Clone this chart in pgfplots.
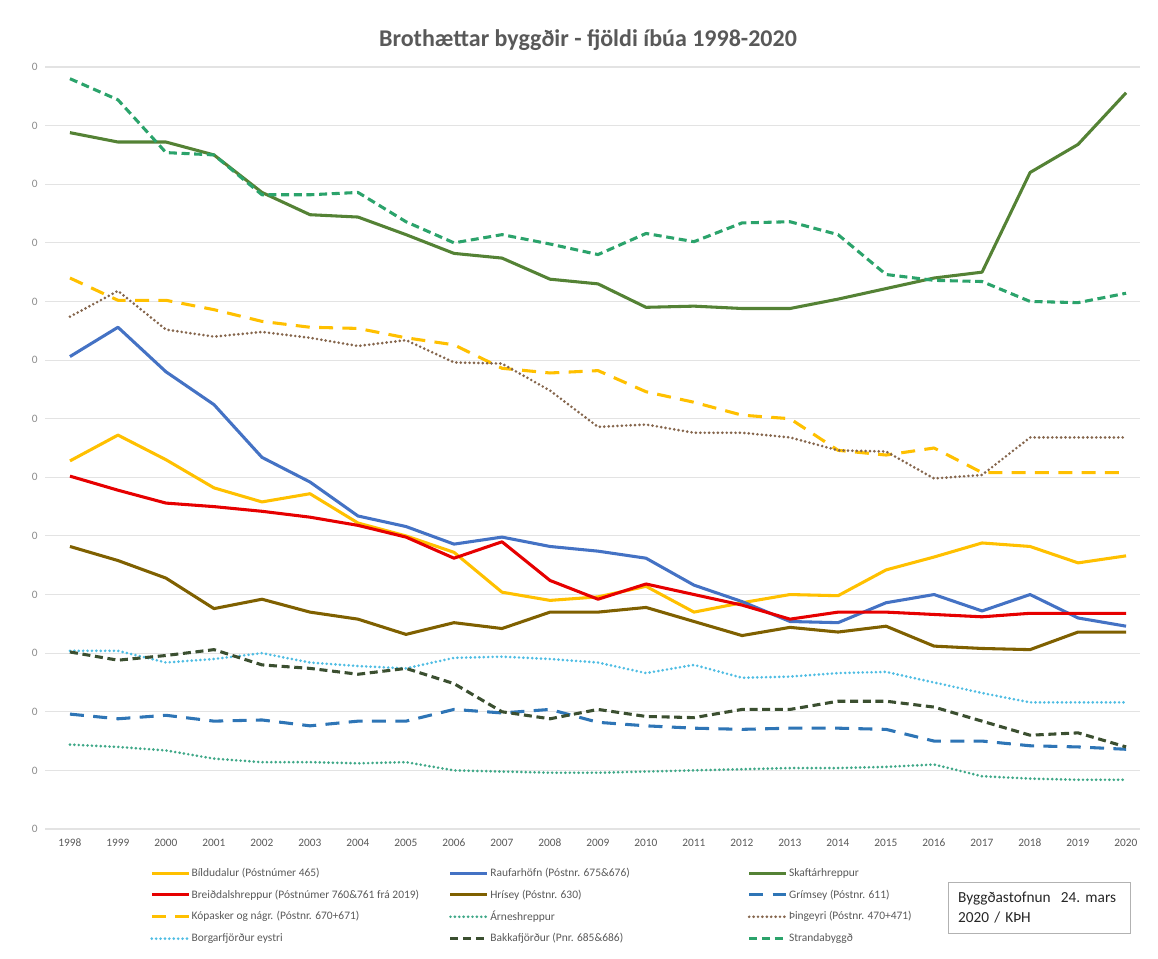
\documentclass[border=0pt]{standalone}
\usepackage{fontspec}
\setmainfont{Carlito}
\usepackage{pgfplots}
\pgfplotsset{compat=1.18}

\definecolor{cBild}{HTML}{FFC000}
\definecolor{cRauf}{HTML}{4472C4}
\definecolor{cSkaf}{HTML}{548235}
\definecolor{cBreid}{HTML}{E60000}
\definecolor{cHris}{HTML}{7F6000}
\definecolor{cGrim}{HTML}{2E75B6}
\definecolor{cKop}{HTML}{FFC000}
\definecolor{cArn}{HTML}{3FA888}
\definecolor{cThing}{HTML}{85664D}
\definecolor{cBorg}{HTML}{4FBDE3}
\definecolor{cBakk}{HTML}{3B4F30}
\definecolor{cStr}{HTML}{2BA36B}
\definecolor{gridgray}{HTML}{E3E3E3}
\definecolor{txtgray}{HTML}{595959}

\newcommand{\lw}[1]{\makebox[192pt][l]{#1}}

\begin{document}
\begin{tikzpicture}[x=0.75pt,y=0.75pt]
\path[use as bounding box] (0,0) rectangle (1158,958);
\begin{axis}[
  at={(33.75pt,96.75pt)}, anchor=south west,
  scale only axis,
  width=821.25pt, height=571.5pt,
  xmin=1997.48, xmax=2020.29,
  ymin=0, ymax=650,
  xtick={1998,1999,...,2020},
  ytick={0,50,...,650},
  yticklabel={0},
  ymajorgrids,
  grid style={color=gridgray, line width=0.8pt},
  axis line style={draw=none},
  tick style={draw=none},
  clip=false,
  xticklabel style={font=\fontsize{8.5}{10}\selectfont, text=txtgray,
    /pgf/number format/1000 sep={}, /pgf/number format/assume math mode=true, yshift=-4pt},
  yticklabel style={font=\fontsize{8.5}{10}\selectfont, text=black!45, xshift=-2pt},
  legend columns=3,
  legend cell align={left},
  legend style={draw=none, fill=none, at={(0.0922,-0.046)}, anchor=north west,
    font=\fontsize{8.6}{10}\selectfont, text=txtgray,
    nodes={inner sep=1pt}, column sep=0pt, row sep=6.2pt},
  legend image code/.code={\draw[#1] plot coordinates {(0pt,0pt) (27.75pt,0pt)};},
  every axis plot/.append style={line join=round},
  dots/.style={line width=2.2pt, line cap=round, dash pattern=on 0pt off 3.3pt},
]
\addplot[cBild, line width=2.3pt] coordinates {(1998,314) (1999,336) (2000,315) (2001,291) (2002,279) (2003,286) (2004,261) (2005,250) (2006,236) (2007,202) (2008,195) (2009,198) (2010,207) (2011,185) (2012,193) (2013,200) (2014,199) (2015,221) (2016,232) (2017,244) (2018,241) (2019,227) (2020,233)};
\addlegendentry{\lw{Bíldudalur (Póstnúmer 465)}}
\addplot[cRauf, line width=2.3pt] coordinates {(1998,403) (1999,428) (2000,390) (2001,362) (2002,317) (2003,296) (2004,267) (2005,258) (2006,243) (2007,249) (2008,241) (2009,237) (2010,231) (2011,208) (2012,194) (2013,177) (2014,176) (2015,193) (2016,200) (2017,186) (2018,200) (2019,180) (2020,173)};
\addlegendentry{\lw{Raufarhöfn (Póstnr. 675\&676)}}
\addplot[cSkaf, line width=2.3pt] coordinates {(1998,594) (1999,586) (2000,586) (2001,575) (2002,543) (2003,524) (2004,522) (2005,507) (2006,491) (2007,487) (2008,469) (2009,465) (2010,445) (2011,446) (2012,444) (2013,444) (2014,452) (2015,461) (2016,470) (2017,475) (2018,560) (2019,584) (2020,628)};
\addlegendentry{Skaftárhreppur}
\addplot[cBreid, line width=2.3pt] coordinates {(1998,301) (1999,289) (2000,278) (2001,275) (2002,271) (2003,266) (2004,259) (2005,249) (2006,231) (2007,245) (2008,212) (2009,196) (2010,209) (2011,200) (2012,191) (2013,179) (2014,185) (2015,185) (2016,183) (2017,181) (2018,184) (2019,184) (2020,184)};
\addlegendentry{\lw{Breiðdalshreppur (Póstnúmer 760\&761 frá 2019)}}
\addplot[cHris, line width=2.3pt] coordinates {(1998,241) (1999,229) (2000,214) (2001,188) (2002,196) (2003,185) (2004,179) (2005,166) (2006,176) (2007,171) (2008,185) (2009,185) (2010,189) (2011,177) (2012,165) (2013,172) (2014,168) (2015,173) (2016,156) (2017,154) (2018,153) (2019,168) (2020,168)};
\addlegendentry{\lw{Hrísey (Póstnr. 630)}}
\addplot[cGrim, line width=2.3pt, dash pattern=on 10.5pt off 7pt] coordinates {(1998,98) (1999,94) (2000,97) (2001,92) (2002,93) (2003,88) (2004,92) (2005,92) (2006,102) (2007,99) (2008,102) (2009,91) (2010,88) (2011,86) (2012,85) (2013,86) (2014,86) (2015,85) (2016,75) (2017,75) (2018,71) (2019,70) (2020,68)};
\addlegendentry{Grímsey (Póstnr. 611)}
\addplot[cKop, line width=2.3pt, dash pattern=on 10.5pt off 7pt] coordinates {(1998,470) (1999,451) (2000,451) (2001,443) (2002,433) (2003,428) (2004,427) (2005,419) (2006,413) (2007,393) (2008,389) (2009,391) (2010,373) (2011,364) (2012,353) (2013,350) (2014,323) (2015,319) (2016,325) (2017,304) (2018,304) (2019,304) (2020,304)};
\addlegendentry{\lw{Kópasker og nágr. (Póstnr. 670+671)}}
\addplot[cArn, dots] coordinates {(1998,72) (1999,70) (2000,67) (2001,60) (2002,57) (2003,57) (2004,56) (2005,57) (2006,50) (2007,49) (2008,48) (2009,48) (2010,49) (2011,50) (2012,51) (2013,52) (2014,52) (2015,53) (2016,55) (2017,45) (2018,43) (2019,42) (2020,42)};
\addlegendentry{\lw{Árneshreppur}}
\addplot[cThing, dots] coordinates {(1998,437) (1999,459) (2000,426) (2001,420) (2002,424) (2003,419) (2004,412) (2005,417) (2006,398) (2007,397) (2008,374) (2009,343) (2010,345) (2011,338) (2012,338) (2013,334) (2014,323) (2015,322) (2016,299) (2017,302) (2018,334) (2019,334) (2020,334)};
\addlegendentry{Þingeyri (Póstnr. 470+471)}
\addplot[cBorg, dots] coordinates {(1998,152) (1999,152) (2000,142) (2001,145) (2002,150) (2003,142) (2004,139) (2005,137) (2006,146) (2007,147) (2008,145) (2009,142) (2010,133) (2011,140) (2012,129) (2013,130) (2014,133) (2015,134) (2016,125) (2017,116) (2018,108) (2019,108) (2020,108)};
\addlegendentry{\lw{Borgarfjörður eystri}}
\addplot[cBakk, line width=2.3pt, dash pattern=on 6pt off 3.5pt] coordinates {(1998,151) (1999,144) (2000,148) (2001,153) (2002,140) (2003,137) (2004,132) (2005,137) (2006,124) (2007,100) (2008,94) (2009,102) (2010,96) (2011,95) (2012,102) (2013,102) (2014,109) (2015,109) (2016,104) (2017,92) (2018,80) (2019,82) (2020,70)};
\addlegendentry{\lw{Bakkafjörður (Pnr. 685\&686)}}
\addplot[cStr, line width=2.3pt, dash pattern=on 6pt off 3.5pt] coordinates {(1998,640) (1999,622) (2000,577) (2001,575) (2002,541) (2003,541) (2004,543) (2005,518) (2006,500) (2007,507) (2008,499) (2009,490) (2010,508) (2011,501) (2012,517) (2013,518) (2014,507) (2015,473) (2016,468) (2017,467) (2018,450) (2019,449) (2020,457)};
\addlegendentry{Strandabyggð}
\end{axis}
\node[font=\bfseries\fontsize{18}{22}\selectfont, text=txtgray] at (588,918) {Brothættar byggðir - fjöldi íbúa 1998-2020};
\node[draw=black!30, line width=0.6pt, anchor=north west, minimum width=136.5pt, minimum height=38pt,
  text width=122pt, inner xsep=7pt, align=left, font=\fontsize{11.5}{15}\selectfont, text=black!85]
  at (948,76) {Byggðastofnun\ \ 24.\ mars\\2020 / KÞH};
\end{tikzpicture}
\end{document}
